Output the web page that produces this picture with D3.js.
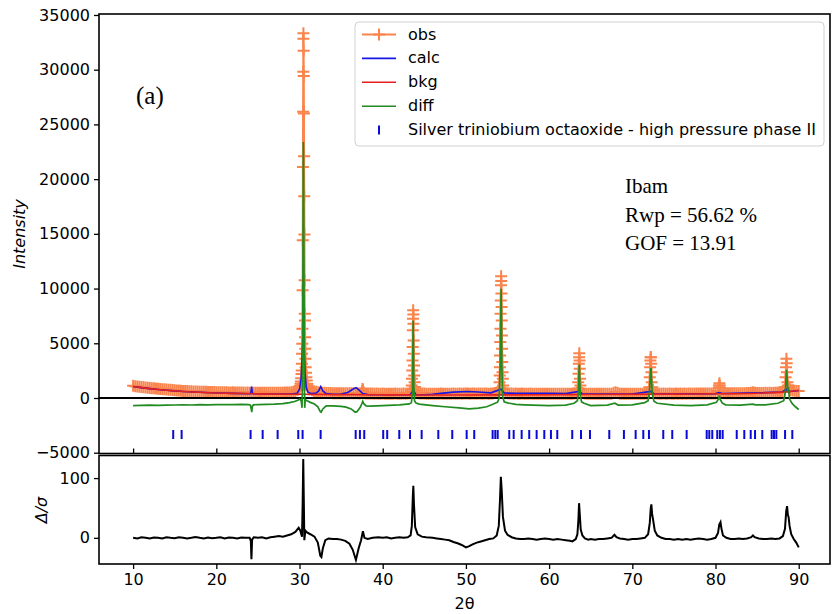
<!DOCTYPE html>
<html>
<head>
<meta charset="utf-8">
<script src="https://cdn.jsdelivr.net/npm/d3@7"></script>
<style>
body { margin: 0; background: #fff; }
text { font-family: "DejaVu Sans", sans-serif; }
text.serif { font-family: "Liberation Serif", "Times New Roman", serif; }
</style>
</head>
<body>
<script>
// observed background band, one value every 0.25 deg from 10 to 90
var obsStart = 10, obsStep = 0.25;
var obsBase = [
	1110,1080,1060,1030,1000,985,960,940,915,900,880,865,840,825,810,795,775,765,750,735,
	700,690,680,665,650,645,630,625,610,600,600,590,575,580,565,560,555,545,550,540,
	535,525,530,520,515,520,510,505,515,500,505,500,495,505,490,500,490,495,485,490,
	480,490,475,485,480,470,485,480,475,490,480,485,490,495,505,500,520,560,620,720,
	900,1000,1300,1500,1300,800,700,620,560,520,500,480,470,460,450,455,440,445,430,440,
	430,435,425,440,430,445,440,430,425,420,500,430,415,410,405,410,400,405,395,400,
	405,395,400,390,400,395,405,400,395,400,405,400,410,440,600,600,480,440,420,410,
	405,400,395,400,390,400,395,400,405,395,400,390,400,395,405,400,395,405,400,410,
	405,415,400,410,405,400,410,405,400,410,405,400,410,420,450,520,600,600,600,480,
	430,420,405,400,410,395,400,405,390,400,395,405,400,395,390,400,395,400,390,395,
	400,390,395,400,390,385,395,400,390,395,385,400,410,440,600,600,460,420,400,390,
	385,390,380,390,385,380,390,385,380,390,395,470,520,450,400,390,385,390,380,390,
	385,395,390,385,390,395,390,410,600,600,480,430,410,400,395,405,400,395,405,400,
	400,405,395,405,400,410,400,405,410,400,410,405,415,405,410,420,410,415,420,415,
	420,425,600,600,440,430,425,430,440,430,435,440,435,445,440,450,460,490,520,480,
	460,450,465,455,470,460,470,465,480,490,500,520,560,600,600,600,700,690,660,640,
	630
];

// observed peaks [2theta, intensity], they replace the band inside their window
var peakWindows = [[29.9, 31.1], [37.4, 37.75], [43.35, 44.0], [53.9, 54.6],
	[63.35, 63.85], [71.95, 72.5], [80.25, 80.7], [88.25, 89.0]];
var obsPeaks = [
	[29.92,800],[29.96,850],[30.00,900],[30.06,1100],[30.12,1300],[30.16,1500],[30.20,1800],[30.24,2200],
	[30.27,2520],[30.29,3130],[30.31,4040],[30.33,4960],[30.35,6330],[30.37,9840],[30.39,14410],
	[30.41,21120],[30.43,26150],[30.45,29810],[30.46,32820],[30.47,33320],[30.49,31730],[30.51,29420],
	[30.53,26000],[30.55,22100],[30.57,18440],[30.59,14940],[30.61,10750],[30.63,7690],[30.65,7090],
	[30.67,5560],[30.69,4500],[30.71,3590],[30.74,2820],[30.78,2300],[30.82,1900],[30.87,1600],
	[30.93,1300],[31.00,1000],[31.08,800],
	[37.45,450],[37.52,600],[37.57,820],[37.62,760],[37.68,550],
	[43.40,600],[43.45,800],[43.49,1140],[43.52,1760],[43.55,2520],[43.58,3430],[43.60,4650],
	[43.62,6180],[43.64,7250],[43.66,8010],[43.68,7640],[43.70,6790],[43.72,5260],[43.74,4040],
	[43.76,2970],[43.79,2060],[43.83,1450],[43.88,1000],[43.95,700],
	[53.95,600],[54.00,840],[54.04,1450],[54.07,2060],[54.09,2820],[54.11,3890],[54.13,5110],
	[54.15,6330],[54.17,7700],[54.19,8920],[54.21,10300],[54.23,11120],[54.25,10690],[54.27,9540],
	[54.29,8310],[54.31,7090],[54.33,5720],[54.35,4500],[54.37,3280],[54.40,2360],[54.44,1760],
	[54.48,1140],[54.55,800],
	[63.40,600],[63.45,840],[63.50,1450],[63.54,2210],[63.57,3130],[63.60,3730],[63.63,4100],
	[63.66,3430],[63.69,2670],[63.72,1760],[63.76,1140],[63.82,800],
	[72.00,600],[72.05,990],[72.10,1900],[72.14,2820],[72.17,3430],[72.20,3730],[72.23,3730],
	[72.26,3130],[72.29,2360],[72.33,1450],[72.40,990],[72.48,700],
	[80.30,650],[80.38,930],[80.43,1140],[80.47,1350],[80.51,1140],[80.56,930],[80.65,650],
	[88.30,700],[88.36,990],[88.42,1900],[88.47,2820],[88.52,3590],[88.56,3180],[88.60,2360],
	[88.65,1450],[88.72,1150],[88.80,1000],[88.90,850]
];

var calc = [
	[10,1050],[11,950],[12,860],[13,780],[14,710],[15,650],[16,600],[18,520],[20,460],[22,420],
	[23.9,395],[24.1,400],[24.17,600],[24.24,1050],[24.31,600],[24.4,395],[25,385],[27,370],[29,360],
	[29.7,420],[30.0,800],[30.2,1800],[30.32,3800],[30.42,5800],[30.48,6000],[30.56,4600],[30.66,2400],
	[30.8,1000],[31.0,550],[31.4,400],[32.0,450],[32.3,650],[32.55,1050],[32.8,650],[33.2,400],
	[34,330],[35,360],[35.8,500],[36.4,800],[36.8,950],[37.2,700],[37.6,400],[38.2,310],[40,295],
	[43.3,300],[43.67,700],[44.0,300],[45,290],[46,330],[47,420],[48.5,540],[50.2,600],[51.5,550],
	[53,470],[54.23,800],[54.6,450],[56,440],[58,430],[60,420],[62,400],[63.63,600],[64,380],
	[66,360],[70,365],[72.24,600],[72.6,370],[76,375],[80,400],[80.46,500],[80.8,410],[85,470],
	[86,490],[88,550],[88.55,800],[88.9,590],[89,600],[90,690]
];

var bkg = [
	[10,1050],[11,950],[12,860],[13,780],[14,710],[15,650],[16,600],[17,555],[18,520],[20,460],
	[22,420],[25,380],[30,340],[35,310],[40,290],[45,280],[50,280],[55,290],[60,300],[65,315],
	[70,335],[75,355],[80,385],[85,440],[86,470],[88,540],[89,590],[90,680]
];

var diff = [
	[10,-690],[11,-680],[12,-660],[13,-670],[14,-650],[15,-640],[16,-630],[17,-640],[18,-610],[19,-620],
	[20,-600],[21,-610],[22,-600],[23,-590],[23.9,-600],[24.1,-650],[24.2,-1000],[24.26,-1300],
	[24.32,-800],[24.45,-620],[25,-600],[26,-580],[27,-560],[28,-520],[28.8,-420],[29.4,-320],
	[29.8,-200],[30.0,-100],[30.2,-250],[30.3,-900],[30.36,1500],[30.40,8000],[30.43,16000],
	[30.46,23400],[30.49,20500],[30.52,14500],[30.56,7000],[30.60,800],[30.63,-900],[30.68,-150],
	[30.9,-250],[31.3,-400],[31.8,-550],[32.2,-800],[32.5,-1250],[32.6,-1300],[32.8,-1000],
	[33.2,-720],[34,-720],[35,-760],[35.6,-840],[36.2,-1000],[36.7,-1300],[36.9,-1250],[37.3,-850],
	[37.5,-500],[37.6,-300],[37.7,-500],[38.0,-720],[38.5,-750],[40,-700],[42,-620],[43.2,-540],
	[43.45,-420],[43.58,500],[43.62,3500],[43.66,7090],[43.70,4200],[43.74,900],[43.82,-250],
	[44.0,-450],[44.4,-560],[46,-690],[47.5,-800],[49.2,-900],[50.4,-990],[51.5,-920],[52.5,-800],
	[53.3,-550],[53.8,-380],[54.0,0],[54.12,3000],[54.2,8000],[54.23,9990],[54.27,7500],[54.32,3000],
	[54.4,200],[54.6,-350],[55,-450],[56,-580],[57,-620],[60,-690],[62,-650],[63.0,-480],[63.4,-250],
	[63.52,500],[63.6,2500],[63.63,3070],[63.67,2000],[63.74,300],[63.9,-350],[64.2,-480],[65,-690],
	[67,-650],[67.9,-480],[68.3,-650],[70,-620],[71.5,-420],[71.9,-250],[72.05,400],[72.18,2200],
	[72.24,2760],[72.3,1800],[72.4,400],[72.6,-300],[73,-480],[75,-650],[77,-690],[79,-620],
	[80.1,-400],[80.35,-100],[80.46,230],[80.55,-100],[80.8,-450],[81.2,-620],[83,-650],[84.5,-560],
	[84.8,-620],[86,-620],[87.5,-480],[88.2,-250],[88.4,600],[88.5,2200],[88.55,2580],[88.62,1500],
	[88.7,700],[88.78,800],[88.9,-100],[89.2,-500],[89.6,-800],[90,-1050]
];

// reflection positions of the phase
var reflections = [14.82,15.83,24.12,25.57,27.37,29.85,30.37,32.54,36.75,37.26,37.78,40.06,40.54,
	41.99,43.28,44.68,46.68,48.36,50.09,51.0,53.21,53.53,53.82,55.21,55.74,56.70,57.61,58.50,59.42,
	60.22,60.98,62.78,63.83,64.91,67.23,68.99,70.40,71.32,72.00,73.72,74.80,76.53,78.94,79.25,79.61,
	80.21,80.53,80.86,82.55,83.46,84.23,84.75,85.62,86.75,87.03,87.31,88.36,89.23];
var reflectionLevel = -3335;

// difference / sigma, lower panel
var resid = [
	[10,0],[10.5,-1],[11,1],[11.5,0],[12,-1],[12.5,0.5],[13,0],[13.5,-1],[14,1],[14.5,0],[15,-0.5],
	[15.5,1],[16,0],[16.5,-1],[17,0],[17.5,1.5],[18,0],[18.5,-1],[19,0.5],[19.5,-0.5],[20,0],[20.5,1],
	[21,-1],[21.5,0.5],[22,0],[22.5,-1],[23,0.5],[23.5,0],[24.0,0],[24.15,-5],[24.22,-36],[24.3,-3],
	[24.5,1],[25,0],[25.5,1],[26,-1],[26.5,1],[27,2],[27.5,3],[28,2],[28.5,4],[29,6],[29.5,10],
	[29.9,17],[30.1,12],[30.3,2],[30.38,60],[30.45,132],[30.52,60],[30.58,-4],[30.7,12],[30.9,9],
	[31.3,6],[31.8,2],[32.2,-8],[32.5,-30],[32.63,-32],[32.8,-18],[33.1,-4],[33.5,-1],[34,-2],
	[34.5,-2],[35,-3],[35.5,-5],[36,-10],[36.4,-20],[36.78,-37],[37.1,-18],[37.4,-4],[37.62,11],
	[37.8,0],[38.2,-2],[38.8,0],[39.5,1],[40,0],[40.5,1],[41,-1],[41.5,0],[42,1],[42.5,0],[43,1],
	[43.35,4],[43.5,20],[43.62,70],[43.68,87],[43.76,55],[43.9,18],[44.2,6],[44.7,2],[45.2,1],[46,0],
	[46.5,-1],[47,-2],[47.5,-3],[48,-4],[48.5,-7],[49,-9],[49.5,-12],[50.0,-16],[50.4,-14],[50.8,-11],
	[51.3,-8],[51.8,-6],[52.3,-4],[52.8,-2],[53.3,-1],[53.7,4],[53.95,20],[54.1,65],[54.2,102],
	[54.3,80],[54.45,35],[54.7,12],[55,5],[55.5,1],[56,-1],[56.5,-2],[57,-2],[57.5,-1],[58,-2],
	[58.5,-3],[59,-2],[59.5,-1],[60,-2],[60.5,-3],[61,-2],[61.5,-3],[62,-4],[62.5,-5],[62.8,-6],
	[63.2,-2],[63.4,6],[63.52,30],[63.6,58],[63.68,40],[63.8,14],[64,4],[64.3,-1],[64.7,-3],[65,-2],
	[65.5,-3],[66,-2],[66.5,-2],[67,-1],[67.5,0],[67.85,5],[68.1,1],[68.5,-1],[69,-2],[69.5,-3],
	[70,-2],[70.5,-2],[71,-1],[71.5,0],[71.9,6],[72.1,25],[72.22,50],[72.29,56],[72.38,40],[72.5,30],
	[72.7,12],[73,4],[73.5,0],[74,-2],[74.5,-2],[75,-3],[75.5,-2],[76,-3],[76.5,-2],[77,-3],[77.5,-2],
	[78,-1],[78.5,-2],[79,-3],[79.5,-2],[80,0],[80.3,8],[80.45,22],[80.6,26],[80.72,15],[80.9,4],
	[81.3,0],[81.8,-2],[82.3,-2],[82.8,-1],[83.3,-2],[83.8,-1],[84.3,1],[84.5,4],[84.7,1],[85.2,-1],
	[85.7,-2],[86.2,-2],[86.7,-1],[87.2,-2],[87.7,-1],[88.1,3],[88.35,15],[88.5,45],[88.6,53],
	[88.7,38],[88.78,35],[88.9,20],[89.1,6],[89.4,-2],[89.7,-8],[90,-16]
];

var xTicks = [10, 20, 30, 40, 50, 60, 70, 80, 90];
var yTicks = [-5000, 0, 5000, 10000, 15000, 20000, 25000, 30000, 35000];
var residTicks = [0, 100];
var legendLabels = ['obs', 'calc', 'bkg', 'diff', 'Silver triniobium octaoxide - high pressure phase II'];
var notes = ['Ibam', 'Rwp = 56.62 %', 'GOF = 13.91'];

var colors = {obs: '#fb844c', calc: '#1616e6', bkg: '#e51e1e', diff: '#218a21', tick: '#0a0ad8'};

// build the observed series
var obs = [];
obsBase.forEach(function(v, i) {
	var t = obsStart + i * obsStep;
	var inPeak = peakWindows.some(function(w) { return t >= w[0] && t < w[1]; });
	if (!inPeak) obs.push([t, v]);
});
obs = obs.concat(obsPeaks).sort(function(a, b) { return a[0] - b[0]; });

var chart = d3.select('body')
	.append('svg')
	.attr('width', 833)
	.attr('height', 614);

// scales
var x = d3.scaleLinear().domain([5.9, 93.76]).range([99, 830]);
var y = d3.scaleLinear().domain([-5117, 35090]).range([454, 14]);
var y2 = d3.scaleLinear().domain([-43.8, 137.8]).range([564, 455.5]);

var defs = chart.append('defs');
defs.append('clipPath').attr('id', 'clipTop')
	.append('rect').attr('x', 99).attr('y', 14).attr('width', 731).attr('height', 440);
defs.append('clipPath').attr('id', 'clipBot')
	.append('rect').attr('x', 99).attr('y', 455.5).attr('width', 731).attr('height', 108.5);

var upper = chart.append('g').attr('clip-path', 'url(#clipTop)');

var line = d3.line()
	.x(function(d) { return x(d[0]); })
	.y(function(d) { return y(d[1]); });

// obs line + markers
upper.append('path')
	.attr('d', line(obs))
	.attr('fill', 'none')
	.attr('stroke', colors.obs)
	.attr('stroke-width', 2);

upper.selectAll('.obsmark')
	.data(obs)
	.enter().append('path')
		.attr('class', 'obsmark')
		.attr('transform', function(d) { return 'translate(' + x(d[0]) + ',' + y(d[1]) + ')'; })
		.attr('d', 'M-6,0H6M0,-6V6')
		.attr('stroke', colors.obs)
		.attr('stroke-width', 2);

// zero line
upper.append('line')
	.attr('x1', 99).attr('x2', 830)
	.attr('y1', y(0)).attr('y2', y(0))
	.attr('stroke', '#000')
	.attr('stroke-width', 2);

upper.append('path')
	.attr('d', line(calc))
	.attr('fill', 'none')
	.attr('stroke', colors.calc)
	.attr('stroke-width', 1.6);

upper.append('path')
	.attr('d', line.curve(d3.curveMonotoneX)(bkg))
	.attr('fill', 'none')
	.attr('stroke', colors.bkg)
	.attr('stroke-width', 1.6);
line.curve(d3.curveLinear);

upper.append('path')
	.attr('d', line(diff))
	.attr('fill', 'none')
	.attr('stroke', colors.diff)
	.attr('stroke-width', 1.7);

upper.selectAll('.refl')
	.data(reflections)
	.enter().append('line')
		.attr('class', 'refl')
		.attr('x1', function(d) { return x(d); })
		.attr('x2', function(d) { return x(d); })
		.attr('y1', y(reflectionLevel) - 4.5)
		.attr('y2', y(reflectionLevel) + 4.5)
		.attr('stroke', colors.tick)
		.attr('stroke-width', 2);

// lower panel
var lower = chart.append('g').attr('clip-path', 'url(#clipBot)');
lower.append('path')
	.attr('d', d3.line()
		.x(function(d) { return x(d[0]); })
		.y(function(d) { return y2(d[1]); })(resid))
	.attr('fill', 'none')
	.attr('stroke', '#000')
	.attr('stroke-width', 2);

// frames
chart.append('rect')
	.attr('x', 99).attr('y', 14).attr('width', 731).attr('height', 439.5)
	.attr('fill', 'none').attr('stroke', '#000').attr('stroke-width', 1.6);
chart.append('rect')
	.attr('x', 99).attr('y', 455.5).attr('width', 731).attr('height', 108.5)
	.attr('fill', 'none').attr('stroke', '#000').attr('stroke-width', 1.6);

// axes
function styleAxis(g) {
	g.select('.domain').remove();
	g.selectAll('.tick line').attr('stroke', '#000').attr('stroke-width', 1.3);
	g.selectAll('.tick text')
		.attr('font-family', '"DejaVu Sans", sans-serif')
		.attr('font-size', 16)
		.attr('fill', '#000');
}

var fmt = d3.format('d');

chart.append('g')
	.attr('transform', 'translate(99,0)')
	.call(d3.axisLeft(y).tickValues(yTicks).tickFormat(fmt).tickSize(5).tickPadding(4))
	.call(styleAxis);

chart.append('g')
	.attr('transform', 'translate(0,453.5)')
	.call(d3.axisBottom(x).tickValues(xTicks).tickFormat('').tickSize(-5))
	.call(styleAxis);

chart.append('g')
	.attr('transform', 'translate(99,0)')
	.call(d3.axisLeft(y2).tickValues(residTicks).tickFormat(fmt).tickSize(5).tickPadding(4))
	.call(styleAxis);

chart.append('g')
	.attr('transform', 'translate(0,564)')
	.call(d3.axisBottom(x).tickValues(xTicks).tickFormat(fmt).tickSize(5).tickPadding(5))
	.call(styleAxis);

// axis labels
chart.append('text')
	.attr('transform', 'translate(19,234) rotate(-90)')
	.attr('text-anchor', 'middle')
	.attr('dy', '0.35em')
	.attr('font-size', 16)
	.attr('font-style', 'italic')
	.text('Intensity');

chart.append('text')
	.attr('transform', 'translate(41,510) rotate(-90)')
	.attr('text-anchor', 'middle')
	.attr('dy', '0.35em')
	.attr('font-size', 16)
	.attr('font-style', 'italic')
	.text('\u0394/\u03c3');

chart.append('text')
	.attr('x', 464.5).attr('y', 609)
	.attr('text-anchor', 'middle')
	.attr('font-size', 16)
	.text('2\u03b8');

// legend
var legend = chart.append('g');
legend.append('rect')
	.attr('x', 355).attr('y', 22).attr('width', 469).attr('height', 124)
	.attr('rx', 4)
	.attr('fill', '#fff').attr('fill-opacity', 0.8)
	.attr('stroke', '#d0d0d0').attr('stroke-width', 1);

var rowY = function(i) { return 34.5 + i * 23.9; };
var legendColors = [colors.obs, colors.calc, colors.bkg, colors.diff];
legendColors.forEach(function(c, i) {
	legend.append('line')
		.attr('x1', 362).attr('x2', 396)
		.attr('y1', rowY(i)).attr('y2', rowY(i))
		.attr('stroke', c).attr('stroke-width', i == 0 ? 2 : 1.6);
});
legend.append('path')
	.attr('transform', 'translate(379,' + rowY(0) + ')')
	.attr('d', 'M-6,0H6M0,-6V6')
	.attr('stroke', colors.obs).attr('stroke-width', 2);
legend.append('line')
	.attr('x1', 379).attr('x2', 379)
	.attr('y1', rowY(4) - 4.5).attr('y2', rowY(4) + 4.5)
	.attr('stroke', colors.tick).attr('stroke-width', 2);

legend.selectAll('.ltext')
	.data(legendLabels)
	.enter().append('text')
		.attr('class', 'ltext')
		.attr('x', 408)
		.attr('y', function(d, i) { return rowY(i) + 5; })
		.attr('font-size', 16)
		.text(function(d) { return d; });

// annotations
chart.append('text')
	.attr('class', 'serif')
	.attr('x', 136).attr('y', 104)
	.attr('font-size', 25)
	.text('(a)');

chart.selectAll('.note')
	.data(notes)
	.enter().append('text')
		.attr('class', 'note serif')
		.attr('x', 625)
		.attr('y', function(d, i) { return 193.3 + i * 28.3; })
		.attr('font-size', 21)
		.text(function(d) { return d; });
</script>
</body>
</html>
